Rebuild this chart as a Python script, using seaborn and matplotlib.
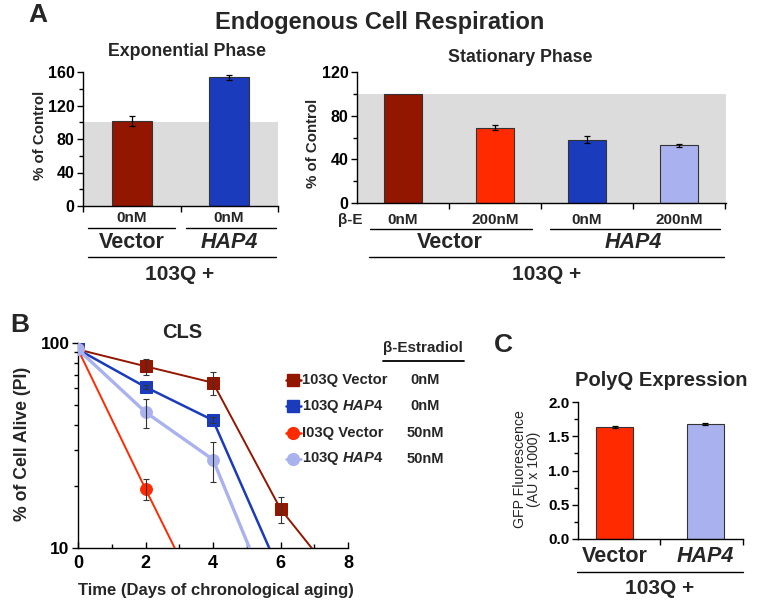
import numpy as np
import pandas as pd
import matplotlib
matplotlib.use('Agg')
import matplotlib.pyplot as plt
import seaborn as sns
from matplotlib.lines import Line2D
from matplotlib.ticker import MultipleLocator, FixedLocator, NullFormatter, FormatStrFormatter

# ---------------- data ----------------
exp_groups = ['Vector', 'HAP4']
exp_conc = ['0nM', '0nM']
exp_values = [101, 154]
exp_err = [6, 3]

stat_groups = ['Vector', 'Vector', 'HAP4', 'HAP4']
stat_conc = ['0nM', '200nM', '0nM', '200nM']
stat_values = [100, 69, 58, 53]
stat_err = [0, 2, 3, 1.5]

cls_labels = ['103Q Vector', '103Q $\\mathit{HAP4}$', 'I03Q Vector', '103Q $\\mathit{HAP4}$']
cls_conc = ['0nM', '0nM', '50nM', '50nM']
vec0_days = [0, 2, 4, 6, 8]
vec0_alive = [93, 77, 64, 15.5, 6.0]
vec0_err = [0, 7, 8, 2.2, 0]
hap0_days = [0, 2, 4, 6]
hap0_alive = [93, 61, 42, 7.5]
hap0_err = [0, 1.5, 1.5, 0]
vec50_days = [0, 2, 4]
vec50_alive = [93, 19.4, 4.2]
vec50_err = [0, 2.3, 0]
hap50_days = [0, 2, 4, 6]
hap50_alive = [93, 46, 27, 4.3]
hap50_err = [0, 7.5, 6, 0]

polyq_groups = ['Vector', 'HAP4']
polyq_values = [1.64, 1.68]
polyq_err = [0.015, 0.015]

# ---------------- style ----------------
sns.set_theme(style='ticks')
plt.rcParams['font.family'] = ['Liberation Sans', 'DejaVu Sans']
plt.rcParams['font.weight'] = 'bold'
plt.rcParams['axes.labelweight'] = 'bold'
plt.rcParams['mathtext.fontset'] = 'custom'
plt.rcParams['mathtext.it'] = 'Liberation Sans:italic:bold'
plt.rcParams['mathtext.rm'] = 'Liberation Sans:bold'
plt.rcParams['mathtext.bf'] = 'Liberation Sans:bold'

DRED = '#931600'
BLUE = '#1B3BBD'
RED = '#FF2A00'
LBLUE = '#A9B2EE'
GRAY = '#DCDCDC'

W, H = 759, 606
fig = plt.figure(figsize=(W / 100, H / 100), dpi=100)


def rect(l, t, r, b):
    return [l / W, 1 - b / H, (r - l) / W, (b - t) / H]


def ftext(x, y, s, ha='center', va='center', **kw):
    fig.text(x / W, 1 - y / H, s, ha=ha, va=va, **kw)


def fline(x0, x1, y, lw=1.0, color='black'):
    fig.add_artist(Line2D([x0 / W, x1 / W], [1 - y / H, 1 - y / H], color=color, lw=lw))


def style_axes(ax):
    sns.despine(ax=ax)
    for s in ['left', 'bottom']:
        ax.spines[s].set_color('black')
        ax.spines[s].set_linewidth(1.0)
    ax.set_facecolor('none')
    ax.set_xlabel('')
    ax.set_ylabel('')


def errbars(ax, xs, vals, errs, color='black', lw=0.9):
    pts = [(x, v, e) for x, v, e in zip(xs, vals, errs) if e > 0]
    if not pts:
        return
    x, v, e = zip(*pts)
    ax.errorbar(x, v, yerr=e, fmt='none', ecolor=color, elinewidth=lw,
                capsize=2.5, capthick=lw, zorder=3)


# ---------------- Panel A, exponential ----------------
axA1 = fig.add_axes(rect(83, 72, 278, 206))
dfA1 = pd.DataFrame({'cond': [g + ' ' + c for g, c in zip(exp_groups, exp_conc)], 'val': exp_values})
axA1.axhspan(0, 100, color=GRAY, zorder=0, lw=0)
sns.barplot(data=dfA1, x='cond', y='val', hue='cond', palette=[DRED, BLUE], legend=False,
            width=0.41, saturation=1, edgecolor='#333333', linewidth=0.8, ax=axA1, zorder=2)
errbars(axA1, range(len(exp_values)), exp_values, exp_err)
axA1.set_xlim(-0.505, 1.505)
axA1.set_ylim(0, 160)
axA1.yaxis.set_major_locator(MultipleLocator(40))
axA1.yaxis.set_minor_locator(MultipleLocator(20))
axA1.set_xticks([-0.5, 0.5, 1.5])
axA1.set_xticklabels([])
style_axes(axA1)
axA1.tick_params(axis='y', which='major', length=4, width=1, labelsize=11.5, pad=2, colors='black')
axA1.tick_params(axis='y', which='minor', length=3, width=1, colors='black')
axA1.tick_params(axis='x', length=4, width=1, colors='black')

# ---------------- Panel A, stationary ----------------
axA2 = fig.add_axes(rect(357, 72, 726, 203))
dfA2 = pd.DataFrame({'cond': [g + ' ' + c for g, c in zip(stat_groups, stat_conc)], 'val': stat_values})
axA2.axhspan(0, 100, color=GRAY, zorder=0, lw=0)
sns.barplot(data=dfA2, x='cond', y='val', hue='cond', palette=[DRED, RED, BLUE, LBLUE], legend=False,
            width=0.41, saturation=1, edgecolor='#333333', linewidth=0.8, ax=axA2, zorder=2)
errbars(axA2, range(len(stat_values)), stat_values, stat_err)
axA2.set_xlim(-0.5, 3.51)
axA2.set_ylim(0, 120)
axA2.yaxis.set_major_locator(MultipleLocator(40))
axA2.yaxis.set_minor_locator(MultipleLocator(20))
axA2.set_xticks([0.5, 1.5, 2.5, 3.5])
axA2.set_xticklabels([])
style_axes(axA2)
axA2.tick_params(axis='y', which='major', length=4, width=1, labelsize=11.5, pad=2, colors='black')
axA2.tick_params(axis='y', which='minor', length=3, width=1, colors='black')
axA2.tick_params(axis='x', length=4, width=1, colors='black')

# Panel A texts
ftext(38, 15, 'A', fontsize=19)
ftext(380, 22, 'Endogenous Cell Respiration', fontsize=17)
ftext(187, 52, 'Exponential Phase', fontsize=12.8)
ftext(520, 58, 'Stationary Phase', fontsize=12.8)
ftext(40, 135, '% of Control', rotation=90, fontsize=10.8)
ftext(313, 143, '% of Control', rotation=90, fontsize=10.8)
for xc, c in zip([132, 229], exp_conc):
    ftext(xc, 218, c, fontsize=11)
fline(88, 175, 228)
fline(186, 276, 228)
ftext(132, 243, 'Vector', fontsize=15.5)
ftext(229, 243, 'HAP4', fontsize=15.5, fontstyle='italic')
fline(88, 276, 257)
ftext(180, 274, '103Q +', fontsize=15)

ftext(350, 220, 'β-E', fontsize=11)
for xc, c in zip([403, 495, 587, 679], stat_conc):
    ftext(xc, 220, c, fontsize=11)
fline(370, 532, 229)
fline(550, 720, 229)
ftext(450, 243, 'Vector', fontsize=15.5)
ftext(633, 243, 'HAP4', fontsize=15.5, fontstyle='italic')
fline(369, 724, 257)
ftext(547, 274, '103Q +', fontsize=15)

# ---------------- Panel B ----------------
axB = fig.add_axes(rect(78, 343, 348, 548))
series = [
    (vec0_days, vec0_alive, vec0_err, DRED, 's', 1.4),
    (hap0_days, hap0_alive, hap0_err, BLUE, 's', 1.8),
    (vec50_days, vec50_alive, vec50_err, RED, 'o', 1.4),
    (hap50_days, hap50_alive, hap50_err, LBLUE, 'o', 2.4),
]
for (d, v, e, col, mk, lw), lab in zip(series, cls_labels):
    df = pd.DataFrame({'day': d, 'alive': v})
    sns.lineplot(data=df, x='day', y='alive', color=col, marker=mk, markersize=8.5,
                 markeredgecolor=col, linewidth=lw, ax=axB, zorder=3)
    errbars(axB, d, v, e, color='#333333', lw=0.8)
axB.set_yscale('log')
axB.set_ylim(10, 100)
axB.set_xlim(0, 8)
axB.set_yticks([10, 100])
axB.set_yticklabels(['10', '100'])
axB.yaxis.set_minor_locator(FixedLocator([20, 30, 40, 50, 60, 70, 80, 90]))
axB.yaxis.set_minor_formatter(NullFormatter())
axB.xaxis.set_major_locator(FixedLocator([0, 2, 4, 6, 8]))
axB.xaxis.set_minor_locator(FixedLocator([1, 3, 5, 7]))
style_axes(axB)
axB.tick_params(axis='y', which='major', length=4, width=1, labelsize=12.5, pad=2, colors='black')
axB.tick_params(axis='y', which='minor', length=3, width=1, colors='black')
axB.tick_params(axis='x', which='major', length=4, width=1, direction='in', labelsize=13, pad=5, colors='black')
axB.tick_params(axis='x', which='minor', length=3, width=1, direction='in', colors='black')

ftext(20, 325, 'B', fontsize=19)
ftext(182, 332, 'CLS', fontsize=14.5)
ftext(23, 444, '% of Cell Alive (PI)', rotation=90, fontsize=12.7)
ftext(216, 590, 'Time (Days of chronological aging)', fontsize=12)

# Legend (manual)
ftext(423, 348, 'β-Estradiol', fontsize=11)
fline(383, 464, 361, lw=1.3)
for i, ((d, v, e, col, mk, lw), lab, conc) in enumerate(zip(series, cls_labels, cls_conc)):
    y = 380 + 26.3 * i
    fig.add_artist(Line2D([286 / W, 301 / W], [1 - y / H, 1 - y / H], color=col, lw=1.8))
    fig.add_artist(Line2D([293 / W], [1 - y / H], color=col, marker=mk, markersize=8.5, lw=0))
    ftext(302, y, lab, ha='left', fontsize=10.6)
    ftext(425, y, conc, fontsize=10.5)

# ---------------- Panel C ----------------
axC = fig.add_axes(rect(578, 402, 743, 539))
dfC = pd.DataFrame({'cond': polyq_groups, 'val': polyq_values})
sns.barplot(data=dfC, x='cond', y='val', hue='cond', palette=[RED, LBLUE], legend=False,
            width=0.41, saturation=1, edgecolor='#333333', linewidth=0.8, ax=axC, zorder=2)
errbars(axC, range(len(polyq_values)), polyq_values, polyq_err)
axC.set_xlim(-0.41, 1.42)
axC.set_ylim(0, 2.0)
axC.yaxis.set_major_locator(MultipleLocator(0.5))
axC.yaxis.set_minor_locator(MultipleLocator(0.25))
axC.yaxis.set_major_formatter(FormatStrFormatter('%.1f'))
axC.set_xticks([0.5, 1.42])
axC.set_xticklabels([])
style_axes(axC)
axC.tick_params(axis='y', which='major', length=4, width=1, labelsize=11, pad=2, colors='black')
axC.tick_params(axis='y', which='minor', length=3, width=1, colors='black')
axC.tick_params(axis='x', length=4, width=1, colors='black')

ftext(503, 345, 'C', fontsize=19)
ftext(661, 380, 'PolyQ Expression', fontsize=14.5)
ftext(527, 469, 'GFP Fluorescence\n(AU x 1000)', rotation=90, fontsize=10.2, fontweight='normal',
      linespacing=1.05)
ftext(615, 557, 'Vector', fontsize=15.5)
ftext(705, 557, 'HAP4', fontsize=15.5, fontstyle='italic')
fline(577, 743, 572)
ftext(660, 588, '103Q +', fontsize=15)

fig.savefig('out.png', dpi=100)
